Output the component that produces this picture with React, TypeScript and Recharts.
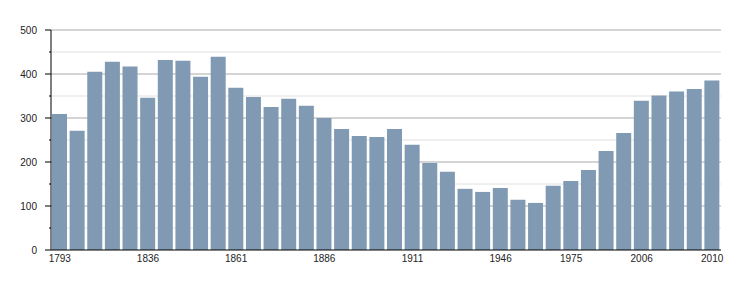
import React from 'react';
import { BarChart, Bar, XAxis, YAxis, ReferenceLine } from 'recharts';

// census years and population
const years = [
  1793, 1800, 1806, 1821, 1831, 1836, 1841, 1846, 1851, 1856,
  1861, 1866, 1872, 1876, 1881, 1886, 1891, 1896, 1901, 1906,
  1911, 1921, 1926, 1931, 1936, 1946, 1954, 1962, 1968, 1975,
  1982, 1990, 1999, 2006, 2007, 2008, 2009, 2010,
];
const population = [
  309, 271, 405, 428, 417, 346, 432, 430, 394, 439,
  369, 348, 325, 344, 328, 300, 275, 259, 257, 275,
  239, 198, 178, 139, 132, 141, 114, 107, 146, 157,
  182, 225, 266, 339, 351, 360, 366, 385,
];
const labelYears = [1793, 1836, 1861, 1886, 1911, 1946, 1975, 2006, 2010];
const yTicks = [0, 50, 100, 150, 200, 250, 300, 350, 400, 450, 500];

const data = years.map((year, i) => ({ year, pop: population[i] }));

const font = 'Liberation Sans, Arial, Helvetica, sans-serif';

const YTick = (props: any) => {
  const { x, y, payload } = props;
  const major = payload.value % 100 === 0;
  const axisX = x + 14;
  return (
    <g>
      <line x1={axisX} x2={axisX - (major ? 6 : 2)} y1={y} y2={y} stroke="#000" />
      {major && (
        <text x={x} y={y} dy={3.5} textAnchor="end" fontSize={10} fontFamily={font} fill="#222">
          {payload.value}
        </text>
      )}
    </g>
  );
};

export default function App() {
  return (
    <BarChart width={734} height={284} data={data} margin={{ top: 22, right: 21, left: 0, bottom: 12 }}>
      {yTicks.filter((v) => v > 0).map((v) => (
        <ReferenceLine
          key={v}
          y={v}
          stroke={v % 100 === 0 ? '#aaaaaa' : '#e0e0e0'}
          strokeWidth={1}
          zIndex={-50}
        />
      ))}
      <Bar dataKey="pop" fill="#7f9ab2" barSize={15} isAnimationActive={false} />
      <XAxis
        dataKey="year"
        interval={0}
        tickLine={false}
        tickSize={0}
        tickMargin={5}
        height={30}
        axisLine={{ stroke: '#000' }}
        tickFormatter={(v) => (labelYears.includes(v) ? String(v) : '')}
        tick={{ fontSize: 10, fontFamily: font, fill: '#222' }}
      />
      <YAxis
        width={43}
        domain={[0, 500]}
        ticks={yTicks}
        interval={0}
        tickSize={6}
        tickMargin={8}
        tickLine={false}
        axisLine={{ stroke: '#000' }}
        tick={<YTick />}
      />
    </BarChart>
  );
}
